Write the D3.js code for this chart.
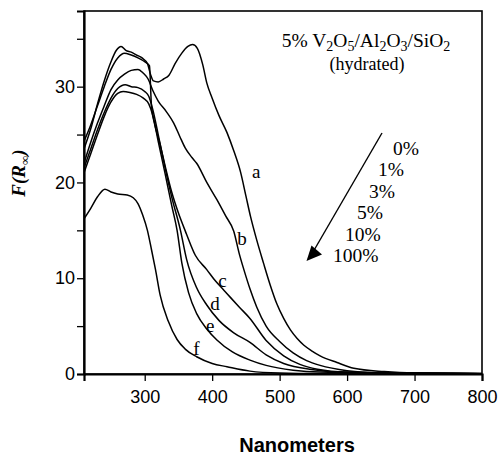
<!DOCTYPE html>
<html>
<head>
<meta charset="utf-8">
<script src="https://cdn.jsdelivr.net/npm/d3@7"></script>
<style>
  body { margin: 0; background: #fff; }
  svg { display: block; }
</style>
</head>
<body>
<div id="chart"></div>
<script>
// wavelength (nm) / F(R) pairs, one array per curve
var curveA = [[210,23.5],[220,25.6],[230,28.2],[240,30.6],[250,32.6],[258,33.8],[265,34.2],[272,33.8],[280,33.6],[288,33.3],[296,33.0],[304,32.4],[309,31.2],[313,30.6],[320,30.5],[328,30.8],[336,31.2],[345,32.4],[355,33.5],[364,34.2],[371,34.4],[378,34.0],[386,32.3],[392,30.4],[400,28.8],[410,27.0],[422,25.2],[432,23.3],[442,21.1],[450,18.6],[457,16.4],[466,14.0],[476,11.6],[486,9.3],[496,7.3],[506,5.8],[516,4.6],[526,3.7],[536,3.0],[548,2.4],[560,1.9],[585,1.2],[610,0.6],[655,0.25],[700,0.1],[800,0.05]];
var curveB = [[210,22.0],[220,24.2],[230,26.2],[240,28.0],[250,29.7],[260,30.7],[270,31.3],[280,31.7],[290,31.8],[298,31.4],[305,30.8],[312,29.6],[320,28.5],[332,27.4],[343,26.2],[352,24.8],[360,23.6],[370,22.6],[377,22.0],[392,20.0],[407,18.2],[420,16.5],[432,14.9],[440,12.6],[447,10.9],[456,8.9],[466,7.0],[480,5.0],[500,3.4],[520,2.2],[540,1.4],[560,0.9],[600,0.35],[650,0.12],[800,0.04]];
var curveC = [[210,24.3],[220,26.0],[230,28.0],[240,30.0],[250,31.8],[260,33.0],[270,33.5],[280,33.3],[290,33.0],[300,32.6],[307,32.2],[310,28.0],[315,26.0],[322,24.2],[330,21.8],[340,19.0],[350,16.8],[362,14.6],[375,12.4],[392,10.9],[405,9.7],[418,8.7],[427,8.0],[440,7.0],[456,5.8],[480,3.5],[506,1.9],[530,1.0],[556,0.5],[600,0.2],[800,0.03]];
var curveD = [[210,21.5],[220,23.5],[230,25.5],[240,27.3],[250,28.8],[260,29.8],[271,30.2],[280,30.0],[290,29.9],[300,29.5],[306,29.0],[312,27.6],[320,25.0],[330,21.6],[340,18.5],[353,15.0],[362,12.0],[377,9.0],[392,7.2],[410,5.6],[432,4.3],[456,3.3],[480,2.0],[506,1.1],[550,0.45],[600,0.15],[800,0.02]];
var curveE = [[210,21.0],[220,23.0],[230,25.0],[240,26.9],[250,28.4],[260,29.3],[268,29.5],[278,29.4],[288,29.2],[298,28.8],[306,28.2],[312,27.0],[320,24.3],[330,21.0],[340,17.6],[348,15.0],[355,11.6],[365,8.5],[377,6.3],[392,4.7],[407,3.55],[430,2.3],[456,1.45],[480,0.9],[520,0.4],[560,0.2],[800,0.02]];
var curveF = [[210,16.2],[220,17.3],[230,18.5],[241,19.3],[250,19.0],[260,18.8],[274,18.7],[283,18.4],[290,17.8],[297,16.6],[304,15.0],[310,13.0],[316,10.9],[323,8.2],[335,5.5],[348,3.6],[360,2.6],[377,1.8],[400,1.1],[422,0.76],[456,0.3],[500,0.1],[560,0.04],[800,0.01]];

var seriesList = [curveA, curveB, curveC, curveD, curveE, curveF];
var curveNames = ['a', 'b', 'c', 'd', 'e', 'f'];
// where each letter sits, in data units (nm, F(R))
var curveLabelAt = [[459, 20.5], [437, 13.5], [409, 9.1], [397, 6.7], [391, 4.4], [372, 2.0]];

var xTicks = [300, 400, 500, 600, 700, 800];
var yTicks = [0, 10, 20, 30];
var yMinorTicks = [5, 15, 25, 35];
var loadings = ['0%', '1%', '3%', '5%', '10%', '100%'];

var width = 500;
var height = 457;
var margin = {top: 11, right: 18, bottom: 83, left: 84};

var svg = d3.select('#chart').append('svg')
  .attr('width', width)
  .attr('height', height);

var x = d3.scaleLinear().domain([210, 800]).range([margin.left, width - margin.right]);
var y = d3.scaleLinear().domain([0, 37.9]).range([height - margin.bottom, margin.top]);

svg.append('clipPath').attr('id', 'plot-clip')
  .append('rect')
  .attr('x', margin.left)
  .attr('y', margin.top)
  .attr('width', width - margin.left - margin.right)
  .attr('height', height - margin.top - margin.bottom);

// frame
svg.append('rect')
  .attr('x', margin.left)
  .attr('y', margin.top)
  .attr('width', width - margin.left - margin.right)
  .attr('height', height - margin.top - margin.bottom)
  .attr('fill', 'none')
  .attr('stroke', '#000')
  .attr('stroke-width', 1.6);

var line = d3.line()
  .x(function(d) { return x(d[0]); })
  .y(function(d) { return y(d[1]); })
  .curve(d3.curveMonotoneX);

svg.append('g')
  .attr('clip-path', 'url(#plot-clip)')
  .selectAll('path')
  .data(seriesList)
  .enter()
  .append('path')
  .attr('d', line)
  .attr('fill', 'none')
  .attr('stroke', '#000')
  .attr('stroke-width', 1.5);

// axes
var xAxis = svg.append('g')
  .attr('transform', 'translate(0,' + y(0) + ')')
  .call(d3.axisBottom(x).tickValues(xTicks).tickSize(7).tickPadding(9));

var yAxis = svg.append('g')
  .attr('transform', 'translate(' + margin.left + ',0)')
  .call(d3.axisLeft(y).tickValues(yTicks).tickSize(7).tickPadding(2));

svg.append('g')
  .attr('transform', 'translate(' + margin.left + ',0)')
  .call(d3.axisLeft(y).tickValues(yMinorTicks).tickSize(7).tickFormat(''))
  .select('.domain').remove();

svg.selectAll('.domain').attr('stroke-width', 2.2);
svg.selectAll('.tick line').attr('stroke-width', 1.3);
svg.selectAll('.tick text')
  .attr('font-family', 'Liberation Sans, Arial, sans-serif')
  .attr('font-size', 18)
  .attr('fill', '#000');

// curve letters
svg.selectAll('text.curve-name')
  .data(curveNames)
  .enter()
  .append('text')
  .attr('class', 'curve-name')
  .attr('x', function(d, i) { return x(curveLabelAt[i][0]); })
  .attr('y', function(d, i) { return y(curveLabelAt[i][1]); })
  .attr('font-family', 'Liberation Serif, Times New Roman, serif')
  .attr('font-size', 19)
  .text(function(d) { return d; });

// sample title
var title = svg.append('text')
  .attr('x', 366)
  .attr('y', 47)
  .attr('text-anchor', 'middle')
  .attr('font-family', 'Liberation Serif, Times New Roman, serif')
  .attr('font-size', 19.5);
var titleParts = [['5% V', 0], ['2', 1], ['O', 0], ['5', 1], ['/Al', 0], ['2', 1], ['O', 0], ['3', 1], ['/SiO', 0], ['2', 1]];
titleParts.forEach(function(p, i) {
  var t = title.append('tspan').text(p[0]);
  if (p[1]) {
    t.attr('font-size', 14).attr('dy', 3.5);
  } else if (i > 0) {
    t.attr('dy', -3.5);
  }
});

svg.append('text')
  .attr('x', 367)
  .attr('y', 70)
  .attr('text-anchor', 'middle')
  .attr('font-family', 'Liberation Serif, Times New Roman, serif')
  .attr('font-size', 18)
  .text('(hydrated)');

// loading list with arrow
var loadX = [393, 378, 369, 357, 345, 333];
svg.selectAll('text.loading')
  .data(loadings)
  .enter()
  .append('text')
  .attr('class', 'loading')
  .attr('x', function(d, i) { return loadX[i]; })
  .attr('y', function(d, i) { return 155 + i * 21.4; })
  .attr('font-family', 'Liberation Serif, Times New Roman, serif')
  .attr('font-size', 19.5)
  .text(function(d) { return d; });

svg.append('line')
  .attr('x1', 382).attr('y1', 133)
  .attr('x2', 313).attr('y2', 252)
  .attr('stroke', '#000')
  .attr('stroke-width', 1.4);

svg.append('path')
  .attr('d', 'M306.5,261 L311.5,245.5 L322,254.5 Z')
  .attr('fill', '#000');

// axis titles
svg.append('text')
  .attr('x', 297)
  .attr('y', 452)
  .attr('text-anchor', 'middle')
  .attr('font-family', 'Liberation Sans, Arial, sans-serif')
  .attr('font-weight', 'bold')
  .attr('font-size', 20)
  .text('Nanometers');

var yTitle = svg.append('text')
  .attr('transform', 'translate(25,173) rotate(-90)')
  .attr('text-anchor', 'middle')
  .attr('font-family', 'Liberation Serif, Times New Roman, serif')
  .attr('font-style', 'italic')
  .attr('font-weight', 'bold')
  .attr('font-size', 19);
yTitle.append('tspan').text('F(R');
yTitle.append('tspan').text('\u221E').attr('font-size', 13).attr('dy', 4);
yTitle.append('tspan').text(')').attr('dy', -4);
</script>
</body>
</html>
